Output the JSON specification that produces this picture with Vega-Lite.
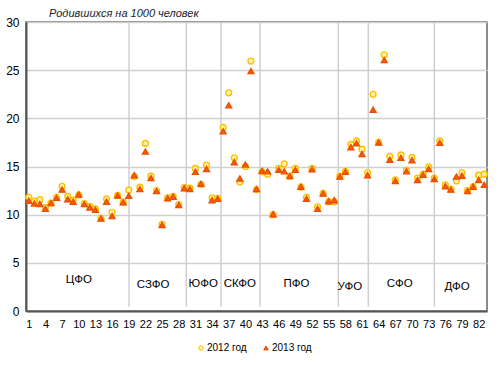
{
  "$schema": "https://vega.github.io/schema/vega-lite/v6.json",
  "width": 461,
  "height": 289,
  "autosize": {"type": "none"},
  "padding": {"left": 26, "top": 22, "right": 13, "bottom": 54},
  "background": "white",
  "config": {
    "font": "Liberation Sans",
    "view": {"stroke": "#666666", "strokeWidth": 1.5},
    "axis": {"labelColor": "#000000", "labelFont": "Liberation Sans"},
    "axisX": {"labelOverlap": false, "labelFlush": false, "labelBound": false, "labelFontSize": 11, "labelPadding": 7, "ticks": false, "grid": false}
  },
  "title": {
    "text": "Родившихся на 1000 человек",
    "anchor": "start",
    "frame": "group",
    "dx": 23,
    "offset": -3,
    "fontSize": 11,
    "fontStyle": "italic",
    "fontWeight": "normal",
    "color": "#1a1a2a",
    "font": "Liberation Sans"
  },
  "datasets": {
    "rates": [
      {"n":1,"year":"2012 год","v":11.8},{"n":2,"year":"2012 год","v":11.4},{"n":3,"year":"2012 год","v":11.55},{"n":4,"year":"2012 год","v":10.75},{"n":5,"year":"2012 год","v":11.2},{"n":6,"year":"2012 год","v":11.8},{"n":7,"year":"2012 год","v":12.95},{"n":8,"year":"2012 год","v":11.9},{"n":9,"year":"2012 год","v":11.5},{"n":10,"year":"2012 год","v":12.05},
      {"n":11,"year":"2012 год","v":11.15},{"n":12,"year":"2012 год","v":10.85},{"n":13,"year":"2012 год","v":10.6},{"n":14,"year":"2012 год","v":9.65},{"n":15,"year":"2012 год","v":11.65},{"n":16,"year":"2012 год","v":10.25},{"n":17,"year":"2012 год","v":12.0},{"n":18,"year":"2012 год","v":11.3},{"n":19,"year":"2012 год","v":12.55},{"n":20,"year":"2012 год","v":13.95},
      {"n":21,"year":"2012 год","v":12.85},{"n":22,"year":"2012 год","v":17.4},{"n":23,"year":"2012 год","v":14.0},{"n":24,"year":"2012 год","v":12.5},{"n":25,"year":"2012 год","v":9.0},{"n":26,"year":"2012 год","v":11.75},{"n":27,"year":"2012 год","v":11.9},{"n":28,"year":"2012 год","v":11.05},{"n":29,"year":"2012 год","v":12.8},{"n":30,"year":"2012 год","v":12.75},
      {"n":31,"year":"2012 год","v":14.8},{"n":32,"year":"2012 год","v":13.15},{"n":33,"year":"2012 год","v":15.15},{"n":34,"year":"2012 год","v":11.75},{"n":35,"year":"2012 год","v":11.7},{"n":36,"year":"2012 год","v":19.05},{"n":37,"year":"2012 год","v":22.65},{"n":38,"year":"2012 год","v":15.9},{"n":39,"year":"2012 год","v":13.4},{"n":40,"year":"2012 год","v":15.0},
      {"n":41,"year":"2012 год","v":25.95},{"n":42,"year":"2012 год","v":12.6},{"n":43,"year":"2012 год","v":14.45},{"n":44,"year":"2012 год","v":14.2},{"n":45,"year":"2012 год","v":10.0},{"n":46,"year":"2012 год","v":14.8},{"n":47,"year":"2012 год","v":15.28},{"n":48,"year":"2012 год","v":14.0},{"n":49,"year":"2012 год","v":14.8},{"n":50,"year":"2012 год","v":12.85},
      {"n":51,"year":"2012 год","v":11.8},{"n":52,"year":"2012 год","v":14.8},{"n":53,"year":"2012 год","v":10.8},{"n":54,"year":"2012 год","v":12.2},{"n":55,"year":"2012 год","v":11.35},{"n":56,"year":"2012 год","v":11.35},{"n":57,"year":"2012 год","v":14.0},{"n":58,"year":"2012 год","v":14.5},{"n":59,"year":"2012 год","v":17.3},{"n":60,"year":"2012 год","v":17.65},
      {"n":61,"year":"2012 год","v":16.8},{"n":62,"year":"2012 год","v":14.35},{"n":63,"year":"2012 год","v":22.5},{"n":64,"year":"2012 год","v":17.5},{"n":65,"year":"2012 год","v":26.6},{"n":66,"year":"2012 год","v":16.05},{"n":67,"year":"2012 год","v":13.6},{"n":68,"year":"2012 год","v":16.2},{"n":69,"year":"2012 год","v":14.6},{"n":70,"year":"2012 год","v":15.95},
      {"n":71,"year":"2012 год","v":13.8},{"n":72,"year":"2012 год","v":14.2},{"n":73,"year":"2012 год","v":14.95},{"n":74,"year":"2012 год","v":13.8},{"n":75,"year":"2012 год","v":17.65},{"n":76,"year":"2012 год","v":13.1},{"n":77,"year":"2012 год","v":12.65},{"n":78,"year":"2012 год","v":13.5},{"n":79,"year":"2012 год","v":14.35},{"n":80,"year":"2012 год","v":12.5},
      {"n":81,"year":"2012 год","v":12.9},{"n":82,"year":"2012 год","v":14.1},{"n":83,"year":"2012 год","v":14.2},
      {"n":1,"year":"2013 год","v":11.45},{"n":2,"year":"2013 год","v":11.15},{"n":3,"year":"2013 год","v":11.1},{"n":4,"year":"2013 год","v":10.6},{"n":5,"year":"2013 год","v":11.2},{"n":6,"year":"2013 год","v":11.75},{"n":7,"year":"2013 год","v":12.6},{"n":8,"year":"2013 год","v":11.6},{"n":9,"year":"2013 год","v":11.35},{"n":10,"year":"2013 год","v":12.1},
      {"n":11,"year":"2013 год","v":11.1},{"n":12,"year":"2013 год","v":10.75},{"n":13,"year":"2013 год","v":10.5},{"n":14,"year":"2013 год","v":9.6},{"n":15,"year":"2013 год","v":11.35},{"n":16,"year":"2013 год","v":9.85},{"n":17,"year":"2013 год","v":12.0},{"n":18,"year":"2013 год","v":11.28},{"n":19,"year":"2013 год","v":11.95},{"n":20,"year":"2013 год","v":14.1},
      {"n":21,"year":"2013 год","v":12.65},{"n":22,"year":"2013 год","v":16.55},{"n":23,"year":"2013 год","v":13.8},{"n":24,"year":"2013 год","v":12.45},{"n":25,"year":"2013 год","v":8.93},{"n":26,"year":"2013 год","v":11.7},{"n":27,"year":"2013 год","v":11.87},{"n":28,"year":"2013 год","v":11.0},{"n":29,"year":"2013 год","v":12.75},{"n":30,"year":"2013 год","v":12.65},
      {"n":31,"year":"2013 год","v":14.45},{"n":32,"year":"2013 год","v":13.2},{"n":33,"year":"2013 год","v":14.75},{"n":34,"year":"2013 год","v":11.5},{"n":35,"year":"2013 год","v":11.65},{"n":36,"year":"2013 год","v":18.65},{"n":37,"year":"2013 год","v":21.35},{"n":38,"year":"2013 год","v":15.45},{"n":39,"year":"2013 год","v":13.75},{"n":40,"year":"2013 год","v":15.2},
      {"n":41,"year":"2013 год","v":24.9},{"n":42,"year":"2013 год","v":12.65},{"n":43,"year":"2013 год","v":14.55},{"n":44,"year":"2013 год","v":14.5},{"n":45,"year":"2013 год","v":10.05},{"n":46,"year":"2013 год","v":14.65},{"n":47,"year":"2013 год","v":14.5},{"n":48,"year":"2013 год","v":14.0},{"n":49,"year":"2013 год","v":14.65},{"n":50,"year":"2013 год","v":12.9},
      {"n":51,"year":"2013 год","v":11.65},{"n":52,"year":"2013 год","v":14.7},{"n":53,"year":"2013 год","v":10.6},{"n":54,"year":"2013 год","v":12.2},{"n":55,"year":"2013 год","v":11.4},{"n":56,"year":"2013 год","v":11.5},{"n":57,"year":"2013 год","v":13.95},{"n":58,"year":"2013 год","v":14.45},{"n":59,"year":"2013 год","v":17.0},{"n":60,"year":"2013 год","v":17.4},
      {"n":61,"year":"2013 год","v":16.3},{"n":62,"year":"2013 год","v":14.1},{"n":63,"year":"2013 год","v":20.9},{"n":64,"year":"2013 год","v":17.5},{"n":65,"year":"2013 год","v":26.05},{"n":66,"year":"2013 год","v":15.7},{"n":67,"year":"2013 год","v":13.5},{"n":68,"year":"2013 год","v":15.9},{"n":69,"year":"2013 год","v":14.5},{"n":70,"year":"2013 год","v":15.65},
      {"n":71,"year":"2013 год","v":13.6},{"n":72,"year":"2013 год","v":14.15},{"n":73,"year":"2013 год","v":14.75},{"n":74,"year":"2013 год","v":13.7},{"n":75,"year":"2013 год","v":17.45},{"n":76,"year":"2013 год","v":12.95},{"n":77,"year":"2013 год","v":12.6},{"n":78,"year":"2013 год","v":13.95},{"n":79,"year":"2013 год","v":14.05},{"n":80,"year":"2013 год","v":12.45},
      {"n":81,"year":"2013 год","v":12.9},{"n":82,"year":"2013 год","v":13.6},{"n":83,"year":"2013 год","v":13.1}
    ],
    "dividers": [
      {"x": 19.05}, {"x": 29.36}, {"x": 35.61}, {"x": 42.63}, {"x": 56.73}, {"x": 62.13}, {"x": 74.02}
    ],
    "districts": [
      {"name": "ЦФО", "x": 10.0, "y": 3.2},
      {"name": "СЗФО", "x": 23.4, "y": 2.65},
      {"name": "ЮФО", "x": 32.4, "y": 2.8},
      {"name": "СКФО", "x": 39.0, "y": 2.8},
      {"name": "ПФО", "x": 49.2, "y": 2.8},
      {"name": "УФО", "x": 58.8, "y": 2.5},
      {"name": "СФО", "x": 67.8, "y": 2.8},
      {"name": "ДФО", "x": 78.1, "y": 2.5}
    ]
  },
  "layer": [
    {
      "data": {"name": "dividers"},
      "mark": {"type": "rule", "color": "#CFCFCF", "strokeWidth": 1.5},
      "encoding": {
        "x": {"field": "x", "type": "quantitative", "scale": {"domain": [0.5, 83.5], "nice": false, "zero": false},
              "axis": {"values": [1,4,7,10,13,16,19,22,25,28,31,34,37,40,43,46,49,52,55,58,61,64,67,70,73,76,79,82],
                       "tickCount": 40,
                       "title": null, "labelOverlap": false,
                       "domainColor": "#555555", "domainWidth": 2, "labelColor": "#000000"}},
        "y": {"datum": 0.45, "type": "quantitative"},
        "y2": {"datum": 30}
      }
    },
    {
      "data": {"name": "rates"},
      "mark": {"type": "point", "filled": false, "opacity": 1, "strokeWidth": 1.4, "size": 34},
      "encoding": {
        "x": {"field": "n", "type": "quantitative"},
        "y": {"field": "v", "type": "quantitative",
              "scale": {"domain": [0, 30], "nice": false},
              "axis": {"values": [0,5,10,15,20,25,30], "title": null, "grid": true, "gridColor": "#D0D0D0", "gridWidth": 1.5,
                       "ticks": false, "labelFontSize": 12, "labelPadding": 7, "domainColor": "#555555", "domainWidth": 2,
                       "labelColor": "#000000"}},
        "shape": {"field": "year", "type": "nominal",
                  "scale": {"domain": ["2012 год", "2013 год"], "range": ["circle", "triangle-up"]},
                  "legend": {"title": null, "orient": "none", "direction": "horizontal", "legendX": 170, "legendY": 321,
                             "labelFontSize": 10, "symbolSize": 20, "columnPadding": 14, "labelOffset": 1,
                             "labelColor": "#000000", "symbolStrokeWidth": 1}},
        "fill": {"field": "year", "type": "nominal",
                 "scale": {"domain": ["2012 год", "2013 год"], "range": ["#FFF6A8", "#FF5A0A"]},
                 "legend": {"title": null, "orient": "none", "direction": "horizontal", "legendX": 170, "legendY": 321,
                             "labelFontSize": 10, "symbolSize": 20, "columnPadding": 14, "labelOffset": 1,
                             "labelColor": "#000000", "symbolStrokeWidth": 1}},
        "stroke": {"field": "year", "type": "nominal",
                   "scale": {"domain": ["2012 год", "2013 год"], "range": ["#FFC000", "#E85000"]},
                   "legend": {"title": null, "orient": "none", "direction": "horizontal", "legendX": 170, "legendY": 321,
                             "labelFontSize": 10, "symbolSize": 20, "columnPadding": 14, "labelOffset": 1,
                             "labelColor": "#000000", "symbolStrokeWidth": 1}}
      }
    },
    {
      "data": {"name": "districts"},
      "mark": {"type": "text", "fontSize": 11.5, "color": "#000000", "font": "Liberation Sans"},
      "encoding": {
        "x": {"field": "x", "type": "quantitative"},
        "y": {"field": "y", "type": "quantitative"},
        "text": {"field": "name", "type": "nominal"}
      }
    }
  ]
}
